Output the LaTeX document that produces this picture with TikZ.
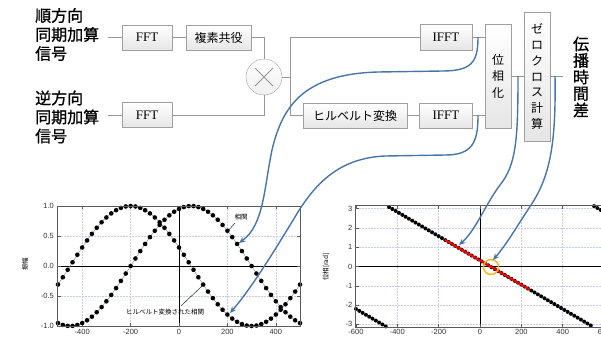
\documentclass[tikz,border=0pt]{standalone}
\usepackage{fontspec}
\setmainfont{Liberation Serif}
\newfontfamily\jp{Noto Sans CJK JP}
\newfontfamily\jpb[FakeBold=1]{Noto Sans CJK JP}
\newfontfamily\sa{Liberation Sans}
\usetikzlibrary{arrows.meta,shadows,calc}
\definecolor{arrowblue}{RGB}{70,118,168}
\definecolor{linegray}{RGB}{150,150,150}
\definecolor{boxedge}{RGB}{160,160,160}
\definecolor{gridblue}{RGB}{200,205,240}
\definecolor{ringorange}{RGB}{250,180,30}
\definecolor{framegray}{RGB}{90,90,90}
\begin{document}
\begin{tikzpicture}[x=1pt,y=-1pt,
  blk/.style={draw=boxedge, top color=white, bottom color=gray!20, inner sep=0pt,
    drop shadow={opacity=0.22,shadow xshift=0.9pt,shadow yshift=-0.9pt}},
  wire/.style={draw=linegray, line width=0.8pt},
  flow/.style={draw=arrowblue, line width=1.4pt, -{Stealth[length=6.5pt,width=5.5pt]}},
  fftfont/.style={font=\fontsize{13}{13}\selectfont},
  jpbox/.style={font=\jp\fontsize{12}{12}\selectfont},
  sig/.style={font=\jpb\fontsize{16}{19}\selectfont, align=left, anchor=west, inner sep=0pt},
  gridline/.style={draw=gridblue, densely dotted, line width=0.5pt},
  axisline/.style={draw=black, line width=0.9pt},
  frameline/.style={draw=framegray, line width=1pt},
  ticklab/.style={font=\sa\fontsize{7.5}{8}\selectfont, text=black!80, inner sep=1pt},
  smalljp/.style={font=\jp\fontsize{6.5}{7}\selectfont, inner sep=0.5pt},
  dot/.style={fill=black}
]
\useasboundingbox (0,0) rectangle (601,346);

% ---------- block diagram ----------
\node[sig] (sig1) at (35,34.5) {順方向\\同期加算\\信号};
\node[sig] (sig2) at (35,117) {逆方向\\同期加算\\信号};

\node[blk, fftfont, minimum width=50, minimum height=25] (fft1) at (147,37.5) {FFT};
\node[blk, jpbox, minimum width=65, minimum height=25] (conj) at (218.5,37.5) {複素共役};
\node[blk, fftfont, minimum width=50, minimum height=25] (fft2) at (147,115) {FFT};
\node[circle, draw=boxedge, top color=white, bottom color=gray!12, minimum size=36, inner sep=0pt] (mul) at (264,77) {};
\draw[draw=linegray, line width=0.8pt] ($(mul.center)+(-9,-9)$) -- ($(mul.center)+(9,9)$);
\draw[draw=linegray, line width=0.8pt] ($(mul.center)+(-9,9)$) -- ($(mul.center)+(9,-9)$);

\node[blk, fftfont, minimum width=52, minimum height=26] (ifft1) at (446,37) {IFFT};
\node[blk, jpbox, minimum width=104, minimum height=25] (hil) at (355,115.5) {ヒルベルト変換};
\node[blk, fftfont, minimum width=53, minimum height=25] (ifft2) at (446,115.5) {IFFT};
\node[blk, font=\jp\fontsize{12}{16.5}\selectfont, align=center, minimum width=26, minimum height=104] (phs) at (498,76) {位\\相\\化};
\node[blk, font=\jp\fontsize{12}{15.8}\selectfont, align=center, minimum width=26, minimum height=129] (zc) at (537,76.5) {ゼ\\ロ\\ク\\ロ\\ス\\計\\算};
\node[font=\jpb\fontsize{16}{16.5}\selectfont, align=center, inner sep=0pt] (res) at (581,77) {伝\\播\\時\\間\\差};

\coordinate (in1) at (108,37.5);
\coordinate (in2) at (108,115);
\coordinate (split) at (290,77);
\coordinate (out) at (563,76);

\draw[wire] (in1) -- (fft1.west);
\draw[wire] (in2) -- (fft2.west);
\draw[wire] (fft1.east) -- (conj.west);
\draw[wire] (conj.east) -| (mul.north);
\draw[wire] (fft2.east) -| (mul.south);
\draw[wire] (mul.east) -- (split);
\draw[wire] (split) |- (ifft1.west);
\draw[wire] (split) |- (hil.west);
\draw[wire] (hil.east) -- (ifft2.west);
\draw[wire] (ifft1.east) -- (ifft1.east -| phs.west);
\draw[wire] (ifft2.east) -- (ifft2.east -| phs.west);
\draw[wire] (phs.east |- 0,76) -- (zc.west |- 0,76);
\draw[wire] (zc.east |- 0,76) -- (out);

% ---------- left plot ----------
\begin{scope}[shift={(179pt,-266pt)}, x=0.242pt, y=60pt]
  \foreach \g in {-400,-200,200,400} \draw[gridline] (\g,-1) -- (\g,1);
  \foreach \g in {-0.5,0.5} \draw[gridline] (-500,\g) -- (500,\g);
  \draw[axisline] (-500,0) -- (500,0);
  \draw[axisline] (0,-1) -- (0,1);
  \foreach \g in {-400,-200,0,200,400} {
    \draw[frameline, line width=0.6pt] (\g,-1) -- ++(0pt,3pt);
    \draw[frameline, line width=0.6pt] (\g,1) -- ++(0pt,-3pt);
    \node[ticklab, anchor=north] at (\g,-1.03) {\g};
  }
  \foreach \g/\t in {-1/-1.0,-0.5/-0.5,0/0.0,0.5/0.5,1/1.0} {
    \draw[frameline, line width=0.6pt] (-500,\g) -- ++(3pt,0pt);
    \draw[frameline, line width=0.6pt] (500,\g) -- ++(-3pt,0pt);
    \node[ticklab, anchor=east] at (-512,\g) {\t};
  }
  \draw[gray, line width=0.4pt] plot[domain=-500:500, samples=101] (\x,{cos(0.36*(\x+200))});
  \draw[gray, line width=0.4pt] plot[domain=-500:500, samples=101] (\x,{sin(0.36*(\x+200))});
  \foreach \xx in {-500,-480,...,500} {
    \fill[dot] (\xx,{cos(0.36*(\xx+200))}) circle (2.3pt);
    \fill[dot] (\xx,{sin(0.36*(\xx+200))}) circle (2.3pt);
  }
  \draw[frameline] (-500,-1) rectangle (500,1);
\end{scope}
\node[smalljp, rotate=90] (ylab1) at (25,264) {振幅};
\node[smalljp] (lbl1) at (241,217) {相関};
\coordinate (c1a) at (235,223);
\coordinate (c1b) at (228,231);
\draw[black, line width=0.4pt] (c1a) -- (c1b);
\node[smalljp] (lbl2) at (165,312) {ヒルベルト変換された相関};
\coordinate (c2a) at (181,306);
\coordinate (c2b) at (202,286);
\draw[black, line width=0.4pt] (c2a) -- (c2b);

% ---------- right plot ----------
\begin{scope}[shift={(480pt,-266.5pt)}, x=0.2067pt, y=19.3pt]
  \foreach \g in {-400,-200,200,400} \draw[gridline] (\g,-3.1416) -- (\g,3.1416);
  \foreach \g in {-3,-2,-1,1,2,3} \draw[gridline] (-600,\g) -- (600,\g);
  \draw[axisline] (-600,0) -- (600,0);
  \draw[axisline] (0,-3.1416) -- (0,3.1416);
  \foreach \g in {-600,-400,-200,0,200,400,600} {
    \draw[frameline, line width=0.6pt] (\g,-3.1416) -- ++(0pt,3pt);
    \draw[frameline, line width=0.6pt] (\g,3.1416) -- ++(0pt,-3pt);
    \node[ticklab, anchor=north] at (\g,-3.2) {\g};
  }
  \foreach \g in {-3,-2,-1,0,1,2,3} {
    \draw[frameline, line width=0.6pt] (-600,\g) -- ++(3pt,0pt);
    \draw[frameline, line width=0.6pt] (600,\g) -- ++(-3pt,0pt);
    \node[ticklab, anchor=east] at (-612,\g) {\g};
  }
  \foreach \n in {0,...,75} {
    \pgfmathsetmacro{\px}{-600+16*\n}
    \pgfmathsetmacro{\ph}{(mod(-0.36*(\px-50)+540,360)-180)*pi/180}
    \fill[dot] (\px,\ph) circle (2pt);
  }
  \draw[red, line width=2pt] (-170,1.382) -- (240,-1.194);
  \draw[frameline] (-600,-3.1416) rectangle (600,3.1416);
\end{scope}
\node[smalljp, rotate=90] (ylab2) at (326,267) {位相[rad]};
\node[circle, draw=ringorange, line width=1.5pt, minimum size=15, inner sep=0pt] (ring) at (491,267) {};

% ---------- blue arrows ----------
\coordinate (s1) at (478,37);
\coordinate (s2) at (478,115.5);
\coordinate (s3) at (518,76);
\coordinate (s4) at (555,76);
\coordinate (e1) at (239,243);
\coordinate (e2) at (230,313);
\coordinate (e3) at (459,245);
\coordinate (e4) at (493,260);
\draw[flow] (s1) .. controls (478,62) and (472,71) .. (442,71) -- (378,72)
  .. controls (302,74) and (282,108) .. (272,150)
  .. controls (264,188) and (264,225) .. (e1);
\draw[flow] (s2) .. controls (478,143) and (472,155) .. (445,155) -- (385,156)
  .. controls (342,158) and (318,180) .. (298,212)
  .. controls (272,255) and (250,290) .. (e2);
\draw[flow] (s3) .. controls (518,140) and (516,165) .. (500,185)
  .. controls (485,205) and (476,230) .. (e3);
\draw[flow] (s4) .. controls (556,140) and (551,175) .. (531,205)
  .. controls (516,228) and (506,245) .. (e4);
\end{tikzpicture}
\end{document}
